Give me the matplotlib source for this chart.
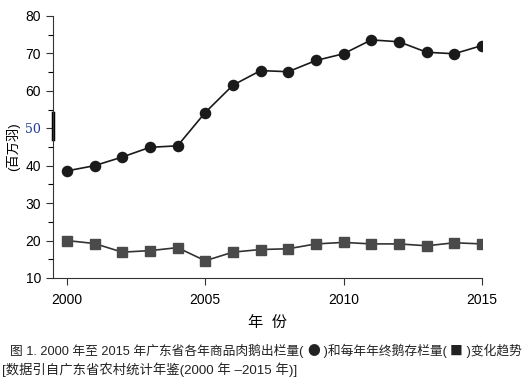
import matplotlib
matplotlib.use("Agg")
import matplotlib.pyplot as plt
from matplotlib.ticker import MultipleLocator

plt.rcParams['font.family'] = ['Liberation Sans', 'Noto Sans CJK SC', 'DejaVu Sans']

years = [2000, 2001, 2002, 2003, 2004, 2005, 2006, 2007,
         2008, 2009, 2010, 2011, 2012, 2013, 2014, 2015]
# 商品肉鹅出栏量 (百万羽)
outflow = [38.6, 40.0, 42.3, 44.9, 45.3, 54.2, 61.5, 65.4,
           65.1, 68.1, 69.9, 73.6, 73.1, 70.3, 69.9, 72.1]
# 年终鹅存栏量 (百万羽)
stock = [20.0, 19.2, 16.9, 17.3, 18.1, 14.6, 16.9, 17.6,
         17.8, 19.1, 19.5, 19.1, 19.1, 18.6, 19.4, 19.1]
xticks = [2000, 2005, 2010, 2015]
yticks = [10, 20, 30, 40, 50, 60, 70, 80]

cjk = ['Liberation Sans', 'Noto Sans CJK SC', 'DejaVu Sans']
sym = ['Noto Sans CJK SC', 'DejaVu Sans']

fig = plt.figure(figsize=(5.26, 3.85), dpi=100)
ax = fig.add_axes([0.1008, 0.278, 0.8155, 0.6806])

ax.plot(years, outflow, color='#1a1a1a', lw=1.2, marker='o', ms=7.3)
ax.plot(years, stock, color='#333333', lw=1.2, marker='s', ms=6.5,
        markerfacecolor='#4a4a4a', markeredgecolor='#4a4a4a')

ax.set_xlim(1999.5, 2015)
ax.set_ylim(10, 80)
ax.set_xticks(xticks)
ax.set_yticks(yticks)
ax.yaxis.set_minor_locator(MultipleLocator(5))
ax.tick_params(axis='both', labelsize=10, length=5, width=0.8, color='#333333')
ax.tick_params(axis='y', which='minor', length=3.5, width=0.8)
ax.tick_params(axis='x', pad=6)
for lab in ax.get_yticklabels():
    if lab.get_text() == '50':
        lab.set_family('DejaVu Serif')
        lab.set_color('#1f3a93')
        lab.set_fontsize(9)

ax.spines['top'].set_visible(False)
ax.spines['right'].set_visible(False)
ax.spines['left'].set_color('#333333')
ax.spines['bottom'].set_color('#333333')
# scan artefact: thick bar at the 50 tick
ax.plot([1999.5, 1999.5], [47, 54], color='black', lw=2.5, clip_on=False)

ax.set_ylabel('(百万羽)', fontsize=9.5, family=cjk, labelpad=4)
ax.set_xlabel('年  份', fontsize=11, family=cjk, labelpad=6)

# caption line 1 in pieces so the legend symbols come out full size
pieces = [('图 1. 2000 年至 2015 年广东省各年商品肉鹅出栏量( ', cjk),
          ('●', sym),
          (' )和每年年终鹅存栏量( ', cjk),
          ('■', sym),
          (' )变化趋势', cjk)]
renderer = fig.canvas.get_renderer()
x = 10
for s, fam in pieces:
    t = fig.text(x / 526, 0.088, s, fontsize=9.2, family=fam, color='#222222',
                 va='center')
    x += t.get_window_extent(renderer).width

fig.text(0.004, 0.039,
         '[数据引自广东省农村统计年鉴(2000 年 –2015 年)]',
         fontsize=9.6, family=cjk, color='#222222', va='center')

fig.savefig('out.png', dpi=100)
